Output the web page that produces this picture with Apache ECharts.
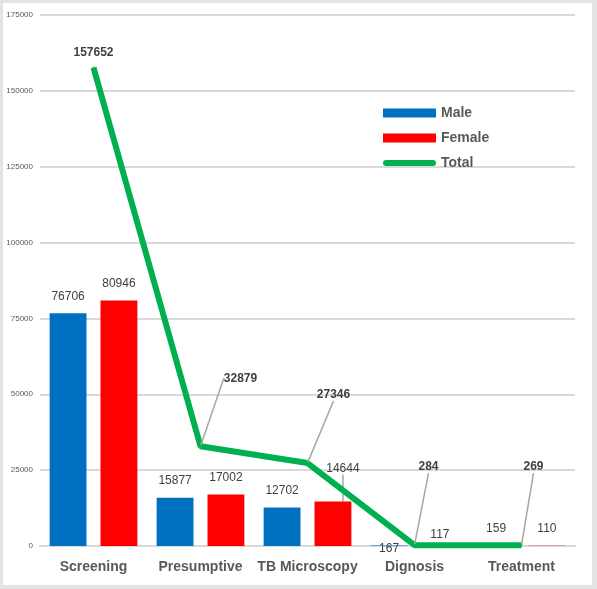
<!DOCTYPE html>
<html>
<head>
<meta charset="utf-8">
<script src="https://cdn.jsdelivr.net/npm/echarts@6/dist/echarts.min.js"></script>
<style>
  html, body { margin: 0; padding: 0; background: #fff; }
  #frame {
    position: absolute; left: 0; top: 0; width: 597px; height: 589px;
    box-sizing: border-box; background: #fff;
    border-style: solid; border-color: #e3e3e3; border-width: 3px 5px 4px 3px;
  }
  #chart { position: absolute; left: 0; top: 0; width: 597px; height: 589px; }
</style>
</head>
<body>
<div id="frame"></div>
<div id="chart"></div>
<script>
// Chart data
const stages = ['Screening', 'Presumptive', 'TB Microscopy', 'Dignosis', 'Treatment'];
const maleValues = [76706, 15877, 12702, 167, 159];
const femaleValues = [80946, 17002, 14644, 117, 110];
const totalValues = [157652, 32879, 27346, 284, 269];
const yTicks = [0, 25000, 50000, 75000, 100000, 125000, 150000, 175000];

// Label nudges (dx, dy) per series / data index
const maleNudge = { 3: [0, 20] };
const femaleNudge = { 2: [10, -16], 3: [0, 6] };
const totalNudge = { 1: [40, -53], 2: [26, -53], 3: [14, -63], 4: [12, -63] };

const labelFont = 'Liberation Sans';

function nudge(table) {
    return function (params) {
        const d = table[params.dataIndex];
        return d ? { dx: d[0], dy: d[1] } : {};
    };
}

// only labels pulled far from their mark get a grey leader line
function withLeaders(values, table, minMove) {
    return values.map((v, i) => {
        const d = table[i];
        const moved = d && (Math.abs(d[0]) >= minMove);
        return {
            value: v,
            labelLine: { show: !!moved, lineStyle: { color: '#a6a6a6', width: 1.5 } }
        };
    });
}

const chart = echarts.init(document.getElementById('chart'));
chart.setOption({
    animation: false,
    grid: { left: 40, right: 22, top: 15, bottom: 43 },
    legend: {
        orient: 'vertical',
        left: 378,
        top: 101,
        itemWidth: 53,
        itemHeight: 9,
        itemGap: 11,
        textStyle: { fontFamily: labelFont, fontSize: 14, fontWeight: 'bold', color: '#595959' },
        data: [
            { name: 'Male', icon: 'rect' },
            { name: 'Female', icon: 'rect' },
            { name: 'Total', icon: 'path://M3,0 H50 A3,3 0 0 1 50,6 H3 A3,3 0 0 1 3,0 Z' }
        ]
    },
    xAxis: {
        type: 'category',
        data: stages,
        axisLine: { lineStyle: { color: '#d9d9d9', width: 2 } },
        axisTick: { show: false },
        axisLabel: {
            interval: 0,
            margin: 14,
            fontFamily: labelFont, fontSize: 14, fontWeight: 'bold', color: '#595959'
        }
    },
    yAxis: {
        type: 'value',
        min: yTicks[0],
        max: yTicks[yTicks.length - 1],
        interval: 25000,
        axisLine: { show: false },
        axisTick: { show: false },
        axisLabel: {
            margin: 7, fontFamily: labelFont, fontSize: 8, color: '#595959',
            formatter: v => String(v)
        },
        splitLine: { lineStyle: { color: '#d9d9d9', width: 2 } }
    },
    series: [
        {
            name: 'Male',
            type: 'bar',
            data: maleValues,
            barGap: '38%',
            barCategoryGap: '18%',
            itemStyle: { color: '#0070c0' },
            label: {
                show: true, position: 'top', distance: 11,
                fontFamily: labelFont, fontSize: 12, color: '#404040'
            },
            labelLayout: nudge(maleNudge)
        },
        {
            name: 'Female',
            type: 'bar',
            data: withLeaders(femaleValues, femaleNudge, 5),
            itemStyle: { color: '#ff0000' },
            label: {
                show: true, position: 'top', distance: 11,
                fontFamily: labelFont, fontSize: 12, color: '#404040'
            },
            labelLayout: nudge(femaleNudge)
        },
        {
            name: 'Total',
            type: 'line',
            data: withLeaders(totalValues, totalNudge, 5),
            symbol: 'circle',
            symbolSize: 2,
            showSymbol: true,
            itemStyle: { color: '#00b050' },
            lineStyle: { color: '#00b050', width: 6 },
            z: 5,
            label: {
                show: true, position: 'top', distance: 8,
                fontFamily: labelFont, fontSize: 12, fontWeight: 'bold', color: '#404040'
            },
            labelLayout: nudge(totalNudge)
        }
    ]
});
</script>
</body>
</html>
